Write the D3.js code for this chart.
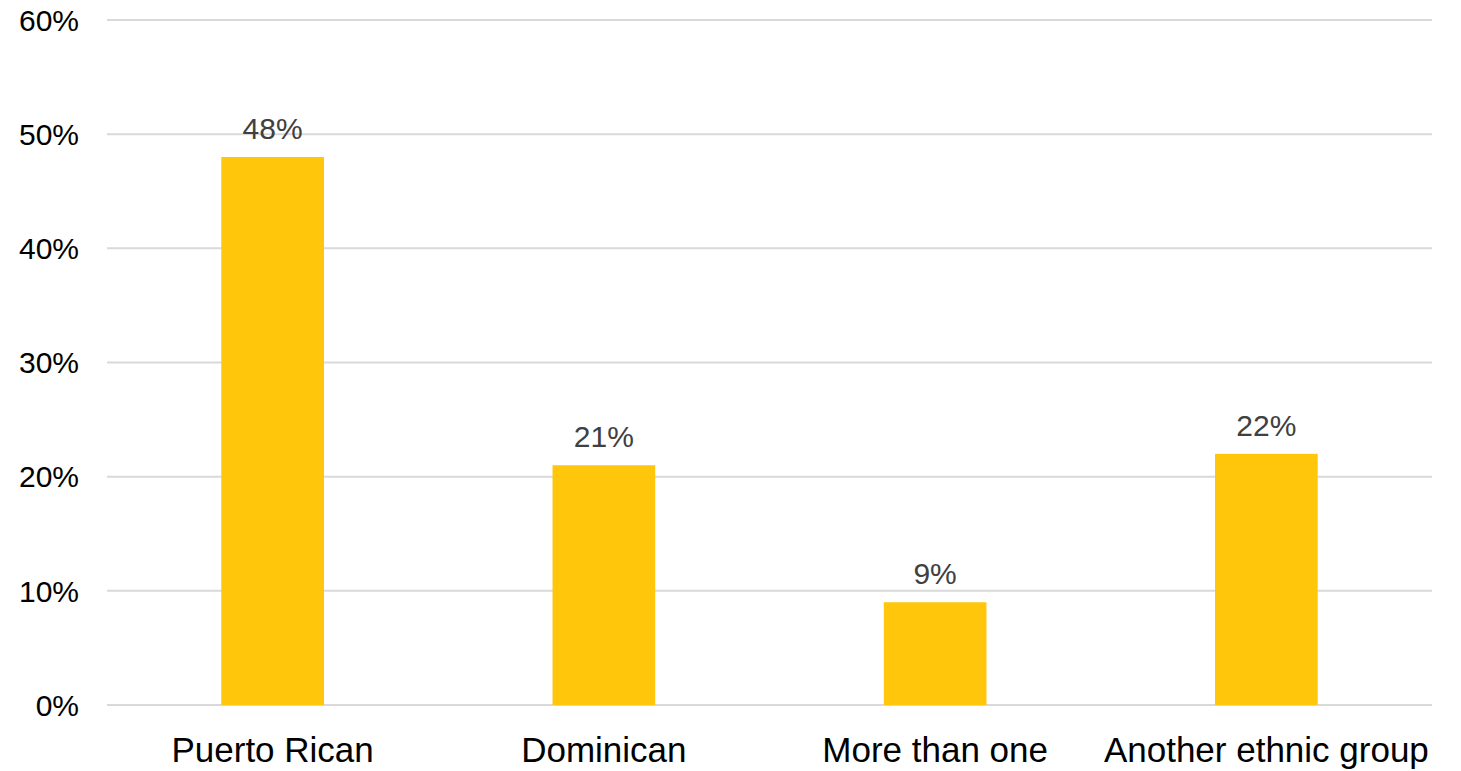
<!DOCTYPE html>
<html><head><meta charset="utf-8">
<script src="https://cdn.jsdelivr.net/npm/d3@7"></script>
<style>body{margin:0;background:#fff}svg{display:block}</style>
</head><body>
<svg id="c" width="1461" height="771"></svg>
<script>
const categories = ["Puerto Rican","Dominican","More than one","Another ethnic group"];
const values = [48,21,9,22];
const yTicks = [0,10,20,30,40,50,60];

const svg = d3.select("#c");
const m = {left:107, right:1432, top:20, bottom:705};
const x = d3.scaleBand().domain(categories).range([m.left, m.right]).paddingInner(0.69).paddingOuter(0.345);
const y = d3.scaleLinear().domain([0,60]).range([m.bottom, m.top]);
const font = "'Liberation Sans Narrow','Arial Narrow','Liberation Sans',sans-serif";

svg.append("g").selectAll("line").data(yTicks).join("line")
  .attr("x1", m.left).attr("x2", m.right)
  .attr("y1", d=>y(d)).attr("y2", d=>y(d))
  .attr("stroke","#d9d9d9").attr("stroke-width",2);

svg.append("g").selectAll("text").data(yTicks).join("text")
  .attr("x",79).attr("y",d=>y(d)).attr("dy","0.36em")
  .attr("text-anchor","end").attr("font-family",font).attr("font-size",30).attr("fill","#000")
  .text(d=>d+"%");

svg.append("g").selectAll("rect").data(values).join("rect")
  .attr("x",(d,i)=>x(categories[i])).attr("width",x.bandwidth())
  .attr("y",d=>y(d)).attr("height",d=>y(0)-y(d))
  .attr("fill","#FFC60B");

svg.append("g").selectAll("text").data(values).join("text")
  .attr("x",(d,i)=>x(categories[i])+x.bandwidth()/2).attr("y",d=>y(d)-18)
  .attr("text-anchor","middle").attr("font-family",font).attr("font-size",30).attr("fill","#404040")
  .text(d=>d+"%");

svg.append("g").selectAll("text").data(categories).join("text")
  .attr("x",d=>x(d)+x.bandwidth()/2).attr("y",762)
  .attr("text-anchor","middle").attr("font-family",font).attr("font-size",35).attr("fill","#000")
  .text(d=>d);
</script>
</body></html>
